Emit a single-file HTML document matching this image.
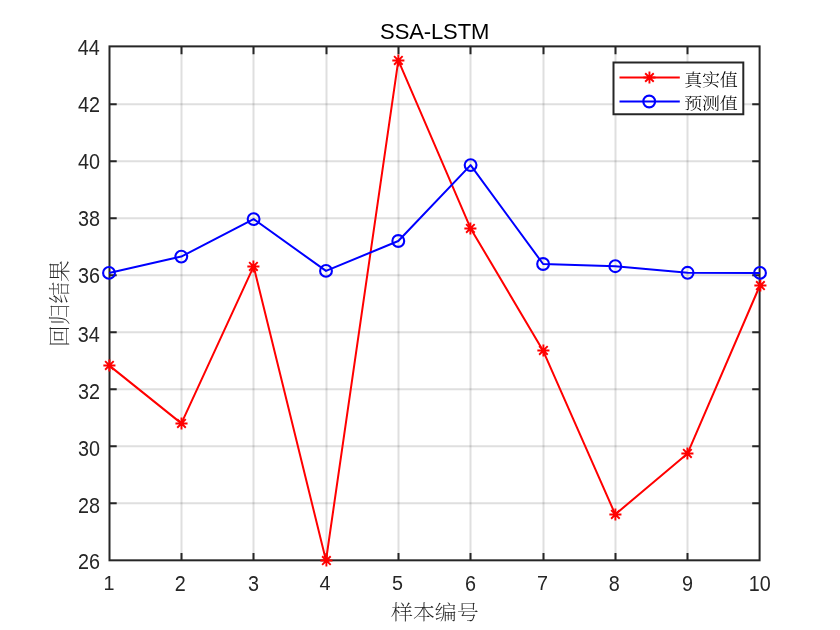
<!DOCTYPE html>
<html lang="zh"><head><meta charset="utf-8"><title>SSA-LSTM</title>
<style>html,body{margin:0;padding:0;background:#fff}body{width:840px;height:630px;overflow:hidden}svg{display:block}</style>
</head><body>
<svg width="840" height="630" viewBox="0 0 840 630">
<rect width="840" height="630" fill="#fff"/>
<path d="M181.50 46.38V560.32M253.50 46.38V560.32M326.50 46.38V560.32M398.50 46.38V560.32M470.50 46.38V560.32M543.50 46.38V560.32M615.50 46.38V560.32M687.50 46.38V560.32" stroke="#262626" stroke-opacity="0.15" stroke-width="2" fill="none"/>
<path d="M109.50 503.35H759.60M109.50 446.35H759.60M109.50 389.35H759.60M109.50 332.35H759.60M109.50 275.35H759.60M109.50 218.35H759.60M109.50 161.35H759.60M109.50 104.35H759.60" stroke="#262626" stroke-opacity="0.15" stroke-width="2" fill="none"/>
<path d="M181.50 560.32V553.0M181.50 46.38V54.3M253.50 560.32V553.0M253.50 46.38V54.3M326.50 560.32V553.0M326.50 46.38V54.3M398.50 560.32V553.0M398.50 46.38V54.3M470.50 560.32V553.0M470.50 46.38V54.3M543.50 560.32V553.0M543.50 46.38V54.3M615.50 560.32V553.0M615.50 46.38V54.3M687.50 560.32V553.0M687.50 46.38V54.3M109.50 503.35H116.7M759.60 503.35H752.2M109.50 446.35H116.7M759.60 446.35H752.2M109.50 389.35H116.7M759.60 389.35H752.2M109.50 332.35H116.7M759.60 332.35H752.2M109.50 275.35H116.7M759.60 275.35H752.2M109.50 218.35H116.7M759.60 218.35H752.2M109.50 161.35H116.7M759.60 161.35H752.2M109.50 104.35H116.7M759.60 104.35H752.2" stroke="#262626" stroke-width="2" fill="none"/>
<rect x="109.50" y="46.38" width="650.10" height="513.94" fill="none" stroke="#262626" stroke-width="2"/>
<clipPath id="c"><rect x="108.75" y="46.30" width="651.45" height="515.12"/></clipPath>
<polyline clip-path="url(#c)" points="109.05,365.40 181.37,423.40 253.68,266.40 326.00,560.50 398.32,60.40 470.63,228.40 542.95,350.40 615.27,514.40 687.58,453.40 759.90,285.50" fill="none" stroke="#ff0000" stroke-width="2" stroke-linejoin="round"/>
<path d="M103.35 365.45H115.45M109.40 359.40V371.50M105.12 361.17L113.68 369.73M105.12 369.73L113.68 361.17" stroke="#ff0000" stroke-width="1.9" fill="none"/>
<path d="M175.45 423.45H187.55M181.50 417.40V429.50M177.22 419.17L185.78 427.73M177.22 427.73L185.78 419.17" stroke="#ff0000" stroke-width="1.9" fill="none"/>
<path d="M247.35 266.45H259.45M253.40 260.40V272.50M249.12 262.17L257.68 270.73M249.12 270.73L257.68 262.17" stroke="#ff0000" stroke-width="1.9" fill="none"/>
<path d="M320.35 560.55H332.45M326.40 554.50V566.60M322.12 556.27L330.68 564.83M322.12 564.83L330.68 556.27" stroke="#ff0000" stroke-width="1.9" fill="none"/>
<path d="M392.30 60.45H404.40M398.35 54.40V66.50M394.07 56.17L402.63 64.73M394.07 64.73L402.63 56.17" stroke="#ff0000" stroke-width="1.9" fill="none"/>
<path d="M464.35 228.45H476.45M470.40 222.40V234.50M466.12 224.17L474.68 232.73M466.12 232.73L474.68 224.17" stroke="#ff0000" stroke-width="1.9" fill="none"/>
<path d="M537.35 350.45H549.45M543.40 344.40V356.50M539.12 346.17L547.68 354.73M539.12 354.73L547.68 346.17" stroke="#ff0000" stroke-width="1.9" fill="none"/>
<path d="M609.35 514.45H621.45M615.40 508.40V520.50M611.12 510.17L619.68 518.73M611.12 518.73L619.68 510.17" stroke="#ff0000" stroke-width="1.9" fill="none"/>
<path d="M681.35 453.45H693.45M687.40 447.40V459.50M683.12 449.17L691.68 457.73M683.12 457.73L691.68 449.17" stroke="#ff0000" stroke-width="1.9" fill="none"/>
<path d="M754.35 285.55H766.45M760.40 279.50V291.60M756.12 281.27L764.68 289.83M756.12 289.83L764.68 281.27" stroke="#ff0000" stroke-width="1.9" fill="none"/>
<polyline clip-path="url(#c)" points="109.00,272.90 181.30,256.60 253.60,219.10 326.00,270.90 398.30,241.00 470.60,165.10 543.10,264.00 615.30,266.20 687.60,272.80 760.00,272.90" fill="none" stroke="#0000ff" stroke-width="2" stroke-linejoin="round"/>
<circle cx="109.00" cy="272.90" r="5.9" fill="none" stroke="#0000ff" stroke-width="2.1"/>
<circle cx="181.30" cy="256.60" r="5.9" fill="none" stroke="#0000ff" stroke-width="2.1"/>
<circle cx="253.60" cy="219.10" r="5.9" fill="none" stroke="#0000ff" stroke-width="2.1"/>
<circle cx="326.00" cy="270.90" r="5.9" fill="none" stroke="#0000ff" stroke-width="2.1"/>
<circle cx="398.30" cy="241.00" r="5.9" fill="none" stroke="#0000ff" stroke-width="2.1"/>
<circle cx="470.60" cy="165.10" r="5.9" fill="none" stroke="#0000ff" stroke-width="2.1"/>
<circle cx="543.10" cy="264.00" r="5.9" fill="none" stroke="#0000ff" stroke-width="2.1"/>
<circle cx="615.30" cy="266.20" r="5.9" fill="none" stroke="#0000ff" stroke-width="2.1"/>
<circle cx="687.60" cy="272.80" r="5.9" fill="none" stroke="#0000ff" stroke-width="2.1"/>
<circle cx="760.00" cy="272.90" r="5.9" fill="none" stroke="#0000ff" stroke-width="2.1"/>
<g font-family="Liberation Sans, Arial, Helvetica, sans-serif" font-size="20.4" fill="#262626">
<text transform="translate(108.95 590.2) scale(0.97 1.0)" text-anchor="middle">1</text>
<text transform="translate(180.27 590.75) scale(0.97 1.065)" text-anchor="middle">2</text>
<text transform="translate(253.58 590.75) scale(0.97 1.065)" text-anchor="middle">3</text>
<text transform="translate(325.00 590.2) scale(0.97 1.0)" text-anchor="middle">4</text>
<text transform="translate(397.52 590.2) scale(0.97 1.0)" text-anchor="middle">5</text>
<text transform="translate(470.53 590.75) scale(0.97 1.065)" text-anchor="middle">6</text>
<text transform="translate(542.45 590.2) scale(0.97 1.0)" text-anchor="middle">7</text>
<text transform="translate(614.37 590.75) scale(0.97 1.065)" text-anchor="middle">8</text>
<text transform="translate(687.48 590.75) scale(0.97 1.065)" text-anchor="middle">9</text>
<text transform="translate(759.80 590.75) scale(0.97 1.065)" text-anchor="middle">10</text>
<text transform="translate(99.90 569.20) scale(0.97 1.065)" text-anchor="end">26</text>
<text transform="translate(99.95 512.70) scale(0.97 1.065)" text-anchor="end">28</text>
<text transform="translate(99.95 455.70) scale(0.97 1.065)" text-anchor="end">30</text>
<text transform="translate(99.95 398.70) scale(0.97 1.065)" text-anchor="end">32</text>
<text transform="translate(99.70 341.70) scale(0.97 1.065)" text-anchor="end">34</text>
<text transform="translate(99.95 283.25) scale(0.97 1.065)" text-anchor="end">36</text>
<text transform="translate(99.95 226.25) scale(0.97 1.065)" text-anchor="end">38</text>
<text transform="translate(99.95 169.25) scale(0.97 1.065)" text-anchor="end">40</text>
<text transform="translate(99.95 112.25) scale(0.97 1.065)" text-anchor="end">42</text>
<text transform="translate(99.70 55.00) scale(0.97 1.065)" text-anchor="end">44</text>
</g>
<text transform="translate(434.67 38.95) scale(0.985 1.012)" text-anchor="middle" font-family="Liberation Sans, Arial, Helvetica, sans-serif" font-size="22.4" letter-spacing="-0.15" fill="#000">SSA-LSTM</text>
<text transform="translate(434.87 620.1) scale(1 0.94)" text-anchor="middle" font-family="Liberation Serif, Noto Serif CJK SC, serif" font-size="22" font-weight="200" fill="#262626">样本编号</text>
<text transform="translate(66.7 303.56) rotate(-90) scale(1 0.98)" text-anchor="middle" font-family="Liberation Serif, Noto Serif CJK SC, serif" font-size="21.7" font-weight="200" fill="#262626">回归结果</text>
<rect x="613.5" y="62.5" width="129.79999999999995" height="51.75" fill="#fff" stroke="#262626" stroke-width="2"/>
<path d="M619.5 77.5H679.8" stroke="#ff0000" stroke-width="2.1"/>
<path d="M643.40 77.50H655.50M649.45 71.45V83.55M645.17 73.22L653.73 81.78M645.17 81.78L653.73 73.22" stroke="#ff0000" stroke-width="1.9" fill="none"/>
<path d="M619.5 101.55H679.8" stroke="#0000ff" stroke-width="2.1"/>
<circle cx="649.20" cy="101.50" r="5.9" fill="none" stroke="#0000ff" stroke-width="2.1"/>
<g font-family="Liberation Serif, Noto Serif CJK SC, serif" font-size="18" font-weight="300" letter-spacing="-0.3" fill="#000">
<text transform="translate(684.3 86.4) scale(1 0.93)">真实值</text>
<text transform="translate(684.3 108.5) scale(1 0.89)">预测值</text>
</g>
</svg>
</body></html>
